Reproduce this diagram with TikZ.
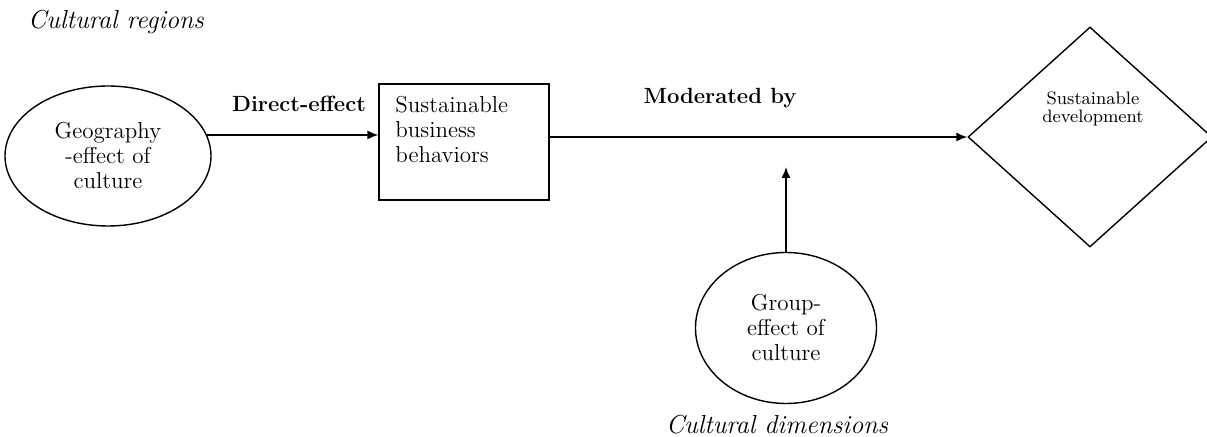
\documentclass[tikz,border=0pt]{standalone}
\usetikzlibrary{arrows.meta,shapes.geometric}
\tikzset{
    oval/.style={ellipse, draw, line width=0.7pt, inner sep=0pt, align=center, font=\fontsize{11.5}{12.5}\selectfont},
    sbox/.style={rectangle, draw, line width=0.7pt, inner sep=0pt},
    diam/.style={diamond, draw, line width=0.7pt, inner sep=0pt},
    txt/.style={align=left, inner sep=0pt, font=\fontsize{11.5}{12.5}\selectfont},
    ital/.style={font=\fontsize{13}{15}\selectfont\itshape},
    bold/.style={font=\fontsize{11}{13}\selectfont\bfseries},
    conn/.style={-{Latex[length=5.5pt,width=4.5pt]}, line width=0.7pt}
}

\begin{document}
\begin{tikzpicture}[x=0.5pt,y=-0.5pt]
\useasboundingbox (0,0) rectangle (1207,437);
\node[ital] (reg) at (116,22) {Cultural regions};
\node[oval, minimum width=103pt, minimum height=70pt] (geo) at (108,156) {Geography\\-effect of\\culture};
\node[bold] (dir) at (299,104) {Direct-effect};
\node[sbox, minimum width=85pt, minimum height=58pt] (sbb) at (464,142) {};
\node[txt, anchor=north west] (sbbtxt) at (395,96) {Sustainable\\business\\behaviors};
\node[bold] (mod) at (720,98) {Moderated by};
\node[diam, minimum width=122pt, minimum height=110pt] (dev) at (1090,137) {};
\node[align=center, inner sep=0pt, font=\fontsize{9}{9}\selectfont] (devtxt) at (1093,109) {Sustainable\\development};
\node[oval, minimum width=90.5pt, minimum height=75.5pt] (grp) at (786,328) {Group-\\effect of\\culture};
\node[ital] (dim) at (777,425) {Cultural dimensions};
\coordinate (tip) at (786,167);
% connectors
\draw[conn] (geo.12) -- (geo.12 -| sbb.west);
\draw[conn] (dev.west -| sbb.east) -- (dev.west);
\draw[conn] (grp.north) -- (tip);
\end{tikzpicture}
\end{document}
